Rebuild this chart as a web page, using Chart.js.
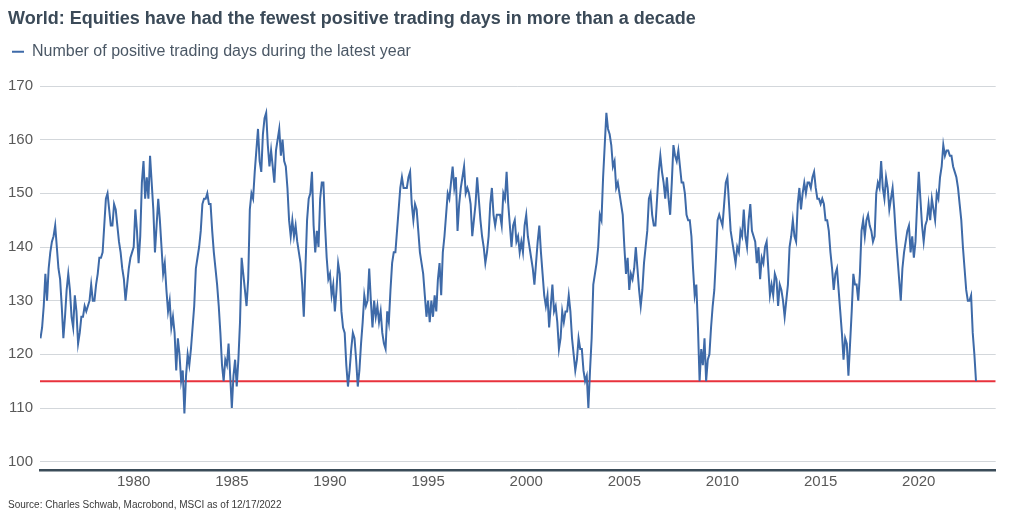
<!DOCTYPE html>
<html>
<head>
<meta charset="utf-8">
<script src="https://cdn.jsdelivr.net/npm/chart.js"></script>
<style>
  html, body { margin: 0; padding: 0; background: #fff; }
  #wrap { width: 1014px; height: 522px; }
</style>
</head>
<body>
<div id="wrap"><canvas id="positiveDaysChart"></canvas></div>
<script>
// monthly readings, first one April 1975
const startYear = 1975;
const startMonth = 4;

const days1975to1990 = [
  123,125,129,135,130,136,139,141,142,144,
  140,136,134,129,123,127,132,135,132,127,
  125,131,128,122,124,127,127,129,128,129,
  130,133,130,130,133,135,138,138,139,144,
  149,150,147,144,144,148,147,144,141,139,
  136,134,130,133,136,138,139,140,147,143,
  137,142,152,156,149,153,149,157,152,147,
  139,144,149,145,140,135,137,132,128,130,
  125,127,124,117,123,120,115,117,109,116,
  120,118,121,125,129,136,138,140,143,148,
  149,149,150,148,148,143,139,136,133,129,
  124,118,115,119,118,122,116,110,116,119,
  114,119,126,138,135,132,129,134,147,150,
  149,154,158,162,156,154,161,164,165,159,
  155,158,155,152,158,160,162,157,160,156,
  155,151,145,142,145,142,144,141,139,137,
  133,127,136,145,149,150,154,144,139,143,
  140,149,152,152,144,138,134,135,131,133,
  128,132,137
];

const days1990to2006 = [
  135,128,125,124,118,114,117,121,124,123,
  119,114,117,122,126,131,129,130,136,130,
  125,130,127,129,126,128,124,122,121,128,
  126,132,137,139,139,143,147,151,153,151,
  151,151,153,154,148,145,148,147,143,139,
  137,135,131,127,130,126,130,127,131,128,
  134,137,131,139,142,146,150,149,152,155,
  151,153,143,148,151,153,155,150,151,150,
  148,142,145,148,153,149,145,142,140,137,
  139,142,148,151,146,144,146,146,146,144,
  150,149,154,148,144,140,144,145,141,142,
  139,141,139,144,146,142,140,138,136,133,
  137,141,144,139,135,131,129,131,125,129,
  133,128,129,126,121,123,128,126,128,128,
  131,128,123,120,117,119,123,121,121,117,
  115,116,110,117,123,133,135,137,140,146,
  145,153,159,165,162,161,159,155,156,151,
  152,150,148,146,140,135,138,132,135,134,
  136,140,136,132,129,132,137,140,143,149,
  150,146,144,144,149,154
];

const days2006to2022 = [
  157,154,152,149,153,149,146,152,159,157,
  156,158,155,152,152,150,146,145,145,142,
  136,131,133,125,115,121,118,123,115,119,
  120,125,129,132,138,145,146,145,144,148,
  152,153,148,143,141,139,137,140,139,143,
  142,147,142,140,145,148,143,142,141,137,
  140,134,138,137,140,141,136,131,133,131,
  135,134,129,133,132,130,127,130,133,140,
  142,145,142,141,148,151,147,150,152,150,
  152,152,151,153,154,151,149,149,148,149,
  148,145,145,143,139,136,132,135,136,132,
  128,124,119,123,122,116,122,128,135,133,
  133,130,135,143,145,142,145,146,144,143,
  141,142,150,152,151,156,151,149,153,151,
  147,149,151,147,142,138,134,130,136,139,
  141,143,144,139,142,138,141,148,154,149,
  144,141,144,145,148,145,149,147,145,150,
  149,153,155,159,157,158,158,157,157,155,
  154,153,151,148,145,140,136,132,130,130,
  131,124,120,115
];

const positiveDays = days1975to1990.concat(days1990to2006, days2006to2022);
const yearTicks = [1980, 1985, 1990, 1995, 2000, 2005, 2010, 2015, 2020];
const valueTicks = [100, 110, 120, 130, 140, 150, 160, 170];
const lowLine = 115;

const xMin = 1975.226;
const xMax = 2023.92;

const seriesPoints = positiveDays.map((v, i) => ({
  x: startYear + (startMonth - 1) / 12 + i / 12,
  y: v
}));

Chart.defaults.font.family = "'Liberation Sans', Arial, sans-serif";

// push the plot down under the legend
const legendMargin = {
  id: 'legendMargin',
  beforeInit(chart) {
    const fitValue = chart.legend.fit;
    chart.legend.fit = function fit() {
      fitValue.bind(chart.legend)();
      this.height += 16.3;
    };
  }
};

const ctx = document.getElementById('positiveDaysChart');

new Chart(ctx, {
  type: 'line',
  data: {
    datasets: [{
      label: 'Number of positive trading days during the latest year',
      data: seriesPoints,
      borderColor: '#3e6aa8',
      backgroundColor: '#3e6aa8',
      borderWidth: 2,
      pointRadius: 0,
      tension: 0
    }, {
      label: 'low',
      data: [{ x: xMin, y: lowLine }, { x: xMax, y: lowLine }],
      borderColor: '#e8323c',
      backgroundColor: '#e8323c',
      borderWidth: 2,
      pointRadius: 0
    }]
  },
  options: {
    responsive: true,
    maintainAspectRatio: false,
    animation: false,
    layout: {
      padding: { left: 8, right: 18.3, top: 0, bottom: 0 }
    },
    plugins: {
      title: {
        display: true,
        text: 'World: Equities have had the fewest positive trading days in more than a decade',
        align: 'start',
        color: '#3b4a58',
        font: { size: 18, weight: 'bold' },
        padding: { top: 8, bottom: 10.1 }
      },
      legend: {
        display: true,
        align: 'start',
        labels: {
          filter: item => item.datasetIndex === 0,
          usePointStyle: true,
          pointStyle: 'line',
          pointStyleWidth: 12,
          padding: 4,
          color: '#4b5866',
          font: { size: 16 }
        }
      },
      subtitle: {
        display: true,
        position: 'bottom',
        align: 'start',
        text: 'Source: Charles Schwab, Macrobond, MSCI as of 12/17/2022',
        color: '#3a3a3a',
        font: { size: 10 },
        padding: { top: 4, bottom: 10.5 }
      },
      tooltip: { enabled: false }
    },
    scales: {
      x: {
        type: 'linear',
        min: xMin,
        max: xMax,
        afterBuildTicks: scale => {
          scale.ticks = yearTicks.map(v => ({ value: v }));
        },
        afterFit: scale => { scale.height = 25.5; },
        grid: { display: false, drawTicks: false },
        border: { display: true, color: '#3b4c59', width: 2.5 },
        ticks: {
          callback: v => String(v),
          color: '#595959',
          font: { size: 15 },
          padding: 2.7,
          maxRotation: 0,
          autoSkip: false
        }
      },
      y: {
        min: 98.45,
        max: 170,
        afterBuildTicks: scale => {
          scale.ticks = valueTicks.map(v => ({ value: v }));
        },
        afterFit: scale => { scale.width = 32; },
        grid: { color: '#d3d7db', lineWidth: 1, drawTicks: false },
        border: { display: false },
        ticks: {
          color: '#595959',
          font: { size: 15 },
          padding: 7
        }
      }
    }
  },
  plugins: [legendMargin]
});
</script>
</body>
</html>
